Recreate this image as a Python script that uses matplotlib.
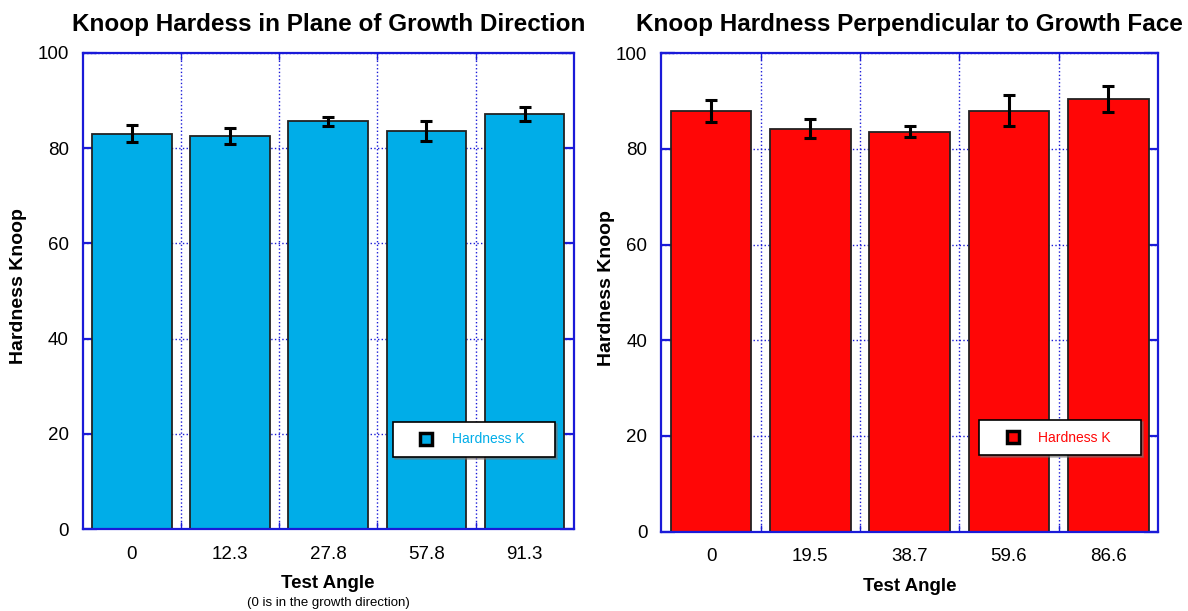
import matplotlib

matplotlib.use("Agg")
import matplotlib.pyplot as plt
from matplotlib.lines import Line2D
from matplotlib.ticker import FixedLocator, MultipleLocator

plt.rcParams.update({
    "font.family": "sans-serif",
    "font.sans-serif": ["Liberation Sans", "Arial", "DejaVu Sans"],
})

# ---- data -------------------------------------------------------------------
angles_plane = ["0", "12.3", "27.8", "57.8", "91.3"]
hard_plane = [83.0, 82.5, 85.6, 83.6, 87.2]
err_plane = [1.8, 1.7, 1.0, 2.1, 1.5]

angles_perp = ["0", "19.5", "38.7", "59.6", "86.6"]
hard_perp = [88.0, 84.2, 83.6, 88.0, 90.5]
err_perp = [2.3, 2.0, 1.2, 3.2, 2.7]

BLUE = "#00ade8"
RED = "#ff0606"
AXC = "#1a1ad8"

fig = plt.figure(figsize=(11.88, 6.11), dpi=100)
ax1 = fig.add_axes([0.0696, 0.1337, 0.4134, 0.780])
ax2 = fig.add_axes([0.5567, 0.1301, 0.4180, 0.7827])


def panel(ax, labels, vals, errs, color, title, legend_box, ylab_x):
    xs = list(range(len(vals)))
    ax.bar(xs, vals, width=0.81, color=color, edgecolor="#222222",
           linewidth=1.3, zorder=2)
    ax.errorbar(xs, vals, yerr=errs, fmt="none", ecolor="black",
                elinewidth=2.2, capsize=4.5, capthick=2.2, zorder=3)
    ax.set_xlim(-0.5, len(vals) - 0.5)
    ax.set_ylim(0, 100)

    # labels at bar centres, tick marks + dotted grid at slot boundaries
    ax.set_xticks(xs)
    ax.set_xticklabels(labels, fontsize=13.5)
    ax.xaxis.set_minor_locator(FixedLocator([i + 0.5 for i in xs[:-1]]))
    ax.tick_params(axis="x", which="major", length=0, pad=12)
    ax.tick_params(axis="x", which="minor", direction="in", length=5,
                   width=1, color=AXC, top=True, bottom=True)
    ax.yaxis.set_major_locator(MultipleLocator(20))
    ax.tick_params(axis="y", which="major", direction="in", length=10,
                   width=1.6, color=AXC, left=True, right=True, pad=10,
                   labelsize=13.5)
    ax.grid(True, which="minor", axis="x", color=AXC, linestyle=":",
            linewidth=1.0, zorder=0)
    ax.grid(True, which="major", axis="y", color=AXC, linestyle=":",
            linewidth=1.0, zorder=0)
    ax.set_axisbelow(True)
    for sp in ax.spines.values():
        sp.set_color(AXC)
        sp.set_linewidth(1.6)

    ax.set_ylabel("Hardness Knoop", fontsize=14, fontweight="bold")
    ax.yaxis.set_label_coords(ylab_x, 0.51)
    ax.set_xlabel("Test Angle", fontsize=13.5, fontweight="bold", labelpad=9)
    ax.set_title(title, fontsize=17.5, fontweight="bold", pad=16)

    handle = Line2D([], [], marker="s", linestyle="none", markersize=9,
                    markerfacecolor=color, markeredgecolor="black",
                    markeredgewidth=2.5)
    leg = ax.legend([handle], ["Hardness K"], loc="center left",
                    bbox_to_anchor=legend_box, mode="expand",
                    fontsize=10, labelcolor=color, handlelength=3.3,
                    handletextpad=0.2, borderpad=0.75, borderaxespad=0,
                    fancybox=False, framealpha=1, edgecolor="black",
                    shadow={"ox": 1.5, "oy": -1.5, "color": "0.45"})
    leg.get_frame().set_linewidth(1.2)
    return leg


panel(ax1, angles_plane, hard_plane, err_plane, BLUE,
      "Knoop Hardess in Plane of Growth Direction",
      (0.632, 0.152, 0.329, 0.073), -0.113)
panel(ax2, angles_perp, hard_perp, err_perp, RED,
      "Knoop Hardness Perpendicular to Growth Face",
      (0.640, 0.160, 0.326, 0.073), -0.093)

fig.text(0.276, 0.003, "(0 is in the growth direction)", ha="center",
         va="bottom", fontsize=9.5)

fig.savefig("out.png", dpi=100, facecolor="white")
